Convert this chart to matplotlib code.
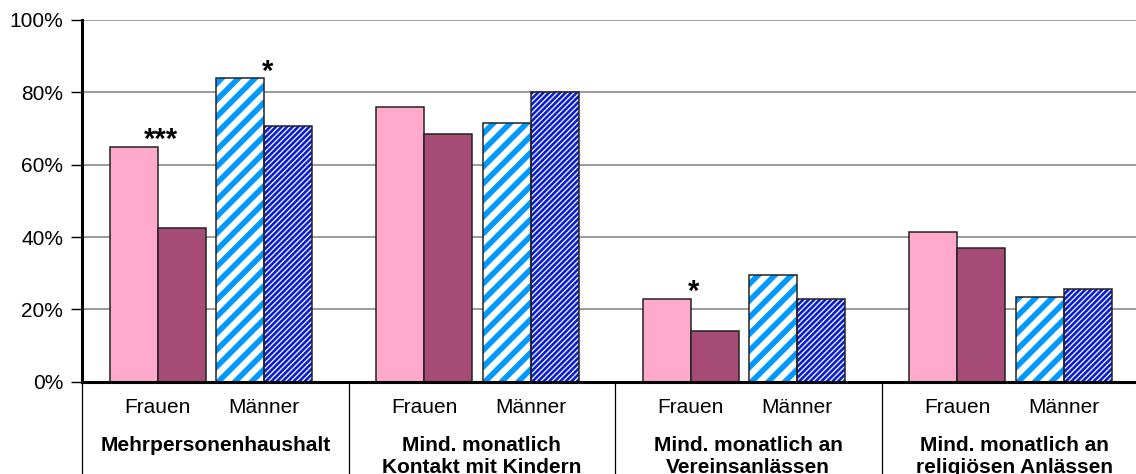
import matplotlib
matplotlib.use("Agg")
import matplotlib.pyplot as plt
from matplotlib.ticker import PercentFormatter
import matplotlib.transforms as mtransforms

# ---- data ----
groups = ["Mehrpersonenhaushalt",
          "Mind. monatlich\nKontakt mit Kindern",
          "Mind. monatlich an\nVereinsanlässen",
          "Mind. monatlich an\nreligiösen Anlässen"]
sub_labels = ["Frauen", "Männer"]
frauen_a = [65, 76, 23, 41.3]
frauen_b = [42.6, 68.5, 14, 37]
maenner_a = [84, 71.5, 29.5, 23.5]
maenner_b = [70.7, 80, 23, 25.6]
# significance marks: (group index, sex index 0=Frauen 1=Männer, label)
stars = [(0, 0, "***"), (0, 1, "*"), (2, 0, "*")]
yticks = [0, 20, 40, 60, 80, 100]

plt.rcParams['font.family'] = ['Liberation Sans', 'DejaVu Sans']
FS = 15

W, H = 1136, 474
fig = plt.figure(figsize=(W / 100, H / 100), dpi=100)
ax = fig.add_axes([82 / W, (H - 381.7) / H, 1066 / W, 361.7 / H])

bw = 0.18
offs = [-0.306, -0.126, 0.094, 0.274]
edge = "#222222"

def plain(xs, vals, color):
    ax.bar(xs, vals, bw, color=color, edgecolor=edge, linewidth=1.1, zorder=3)

def hatched(xs, vals, face, hcol, hatch, hlw):
    with plt.rc_context({'hatch.linewidth': hlw}):
        bars = ax.bar(xs, vals, bw, color=face, edgecolor=hcol, linewidth=0,
                      hatch=hatch, zorder=3)
        for b in bars:
            try:
                b.set_hatch_linewidth(hlw)
            except AttributeError:
                pass
    ax.bar(xs, vals, bw, fill=False, edgecolor=edge, linewidth=1.1, zorder=4)

n = len(groups)
x = list(range(n))
plain([i + offs[0] for i in x], frauen_a, "#FFAACC")
plain([i + offs[1] for i in x], frauen_b, "#A64A76")
hatched([i + offs[2] for i in x], maenner_a, "white", "#0099FF", "//", 4.0)
hatched([i + offs[3] for i in x], maenner_b, "#0A1ED2", "white", "//////", 0.9)

# stars
pairs = [(frauen_a, frauen_b), (maenner_a, maenner_b)]
for gi, si, lab in stars:
    a, b = pairs[si]
    top = max(a[gi], b[gi])
    xb = gi + offs[2 * si] + bw / 2 + 0.012
    ax.text(xb, top - 0.5, lab, ha="center", va="baseline", fontsize=21,
            fontweight="bold", zorder=5)

ax.set_xlim(-0.5, n - 0.5)
ax.set_ylim(0, 100)
ax.set_yticks(yticks)
ax.yaxis.set_major_formatter(PercentFormatter(decimals=0))
ax.tick_params(axis="y", direction="out", length=8, width=1, pad=5.5,
               labelsize=FS, colors="black")
ax.set_xticks([])
ax.grid(axis="y", color="#808080", linewidth=1.1, zorder=0)
ax.set_axisbelow(True)
for s in ["top", "right"]:
    ax.spines[s].set_visible(False)
ax.spines["left"].set_linewidth(2.2)
ax.spines["bottom"].set_linewidth(2.2)
ax.spines["bottom"].set_zorder(6)

trans = mtransforms.blended_transform_factory(ax.transData, ax.transAxes)
for i in range(n + 1):
    ax.plot([i - 0.5, i - 0.5], [0, -0.5], transform=trans, color="black",
            linewidth=0.9, clip_on=False)

line_step = 22.3 / 361.7
for i, g in enumerate(groups):
    ax.text(i + offs[0] + bw / 2, -0.0876, sub_labels[0], transform=trans,
            ha="center", va="baseline", fontsize=FS)
    ax.text(i + offs[2] + bw / 2, -0.0876, sub_labels[1], transform=trans,
            ha="center", va="baseline", fontsize=FS)
    for k, line in enumerate(g.split("\n")):
        ax.text(i, -0.191 - k * line_step, line, transform=trans, ha="center",
                va="baseline", fontsize=FS, fontweight="bold")

fig.savefig("out.png", dpi=100)
